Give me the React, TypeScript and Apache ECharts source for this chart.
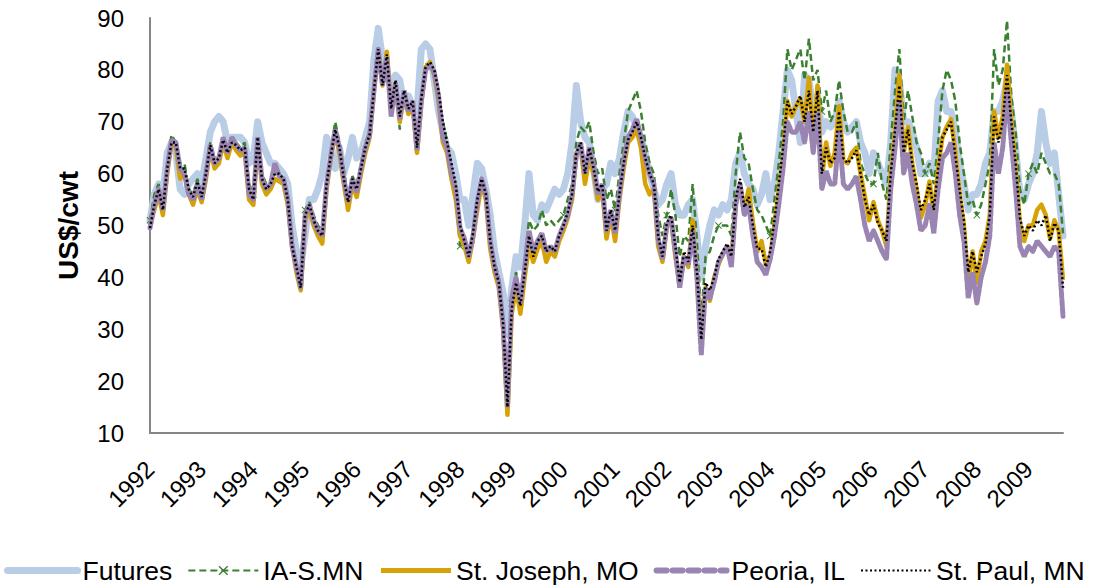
import React, { useEffect, useRef } from "react";
import * as echarts from "echarts";

const YEARS = [1992, 1993, 1994, 1995, 1996, 1997, 1998, 1999, 2000, 2001, 2002, 2003, 2004, 2005, 2006, 2007, 2008, 2009];
const MONTHS = ["01", "02", "03", "04", "05", "06", "07", "08", "09", "10", "11", "12"];

const SERIES_NAMES = ["Futures", "IA-S.MN", "St. Joseph, MO", "Peoria, IL", "St. Paul, MN"];

// Monthly readings, Jan 1992 .. Sep 2009 (US$/cwt)
const FUTURES = [
  51, 56, 58, 56, 64, 66, 64, 57, 56, 58, 59, 60,
  58, 63, 68, 70, 71, 70, 66, 67, 67, 67, 66, 62,
  63, 70, 66, 64, 62, 62, 61, 60, 58, 50, 45, 42,
  48, 55, 55, 57, 60, 67, 64, 61, 65, 60, 63, 67,
  63, 64, 67, 70, 82, 88, 82, 80, 76, 79, 78, 73,
  75, 73, 72, 84, 85, 84, 78, 72, 68, 65, 64, 60,
  55, 55, 50, 56, 62, 61, 57, 52, 45, 41, 37, 29,
  38, 44, 42, 50, 60, 52, 51, 54, 53, 55, 57, 56,
  57, 60, 66, 77, 70, 67, 66, 61, 55, 57, 58, 62,
  60, 63, 68, 72, 71, 69, 67, 64, 60, 57, 54, 55,
  58, 60, 54, 52, 52, 54, 55, 48, 40, 46, 50, 53,
  52, 54, 53, 55, 62, 64, 60, 58, 57, 54, 56, 60,
  55, 58, 64, 72, 80, 78, 72, 66, 79, 78, 72, 75,
  68, 70, 69, 70, 74, 70, 68, 69, 70, 66, 64, 60,
  64, 62, 60, 58, 66, 80, 78, 70, 70, 68, 65, 60,
  60, 62, 60, 74, 76, 72, 72, 68, 62, 58, 53, 56,
  56, 58, 62, 64, 72, 72, 74, 78, 72, 65, 56, 55,
  58, 60, 64, 72, 66, 62, 64, 56, 48,
];

const IA_SMN = [
  51, 56, 58, 54, 62, 67.5, 66, 62, 62, 57, 56, 59,
  56, 61, 66, 63, 63, 67, 65, 67, 66, 65, 66, 58,
  56, 67, 60, 58, 58, 60, 60, 59, 56, 47, 42, 39,
  53, 54.5, 52, 50, 49, 59, 64, 70, 66, 61, 55, 59.5,
  58, 62, 66, 68, 76, 83, 77, 82, 73, 78, 68.5, 76,
  73, 74, 66, 75, 81, 81.5, 80, 76, 70, 66, 61, 55,
  46, 47, 45, 46, 55, 58, 56, 47, 43, 40, 32, 16,
  35, 41, 36, 43, 51, 49, 50, 53, 50, 51, 50, 51,
  52, 55, 58, 66, 69, 68, 70, 64, 60, 61, 55, 57,
  53, 60, 66, 72, 74, 76, 72, 66, 62, 60, 52, 48,
  52, 57, 52, 44, 48, 47, 58, 47, 32, 44, 45, 48,
  50, 50, 50, 48, 60, 68, 63, 62, 57, 53, 52, 50,
  48, 55, 62, 70, 84, 80, 82, 84, 78, 86, 78, 80,
  72, 76, 70, 72, 78, 72, 68, 68, 70, 62, 60, 58,
  58, 64, 58, 55, 66, 76, 84, 70, 76, 71, 66, 64,
  60, 62, 58, 66, 76, 80, 78, 74, 66, 60, 54, 55,
  52, 54, 58, 62, 84, 77, 80, 89.5, 75, 68, 57, 54,
  60, 62, 60, 64, 62, 60, 60, 58, 48.5,
];

const ST_JOSEPH = [
  50, 53, 56, 52, 60, 66, 65, 59, 60, 56, 54, 57,
  54.5, 59, 65, 61, 62, 66, 63, 66, 64.5, 63.5, 64.5, 55,
  54, 66, 58, 56, 57, 59, 58.5, 58, 54, 46, 41, 37.5,
  51, 53, 50, 48, 46.5, 57, 63, 68, 64, 58, 53, 58,
  55.5, 60, 64, 67, 76, 83.5, 77, 83.5, 72, 77, 70, 75,
  71.5, 73, 64, 73.5, 80.5, 81.5, 79, 74, 66, 64, 59, 55,
  48, 46, 43, 47.5, 53, 58, 55, 45.5, 41, 38, 30, 13.5,
  33, 38, 33, 40, 46, 43, 45.5, 47, 43, 45, 44, 47,
  49, 51.5, 55, 64, 65, 58, 63, 60, 55, 57, 47.5, 52,
  47, 55, 61, 66, 67, 68.5, 65, 58, 56, 57, 46, 43,
  50, 51, 44, 38.5, 44, 42, 51, 40, 28.5, 38, 35.5, 40,
  42.5, 44.5, 46, 43.5, 54, 58, 53, 57, 50.5, 45, 47, 42.5,
  44, 50, 57, 63, 74, 71, 73, 74.5, 70, 78.5, 66, 77,
  59, 66, 61.5, 64, 73, 62.5, 62, 64, 65, 60, 55.5, 51,
  54.5, 51, 49, 46, 60, 68, 79, 64, 69, 62, 57, 51.5,
  54, 58.5, 52, 61, 67, 69, 70.5, 64, 56, 50, 39, 45,
  39, 45, 47, 52, 72, 67, 71, 81, 70, 61, 50.5, 47,
  50, 50, 53, 54, 52, 47.5, 51, 49, 39.5,
];

const PEORIA = [
  49.5, 54, 57, 53, 61, 66.5, 66, 61, 60, 56, 55, 58,
  55, 60, 65.5, 62, 63, 67, 64, 67, 65.5, 64.5, 65, 56,
  55, 67, 59, 57, 58, 62, 59.5, 59, 55, 46, 42, 38,
  52, 54, 51, 49, 48, 58, 63.5, 68.5, 65, 59, 54.5, 59,
  56.5, 61, 65, 67.5, 76, 84, 77, 82.5, 71, 77.5, 70.5, 76,
  72, 74, 64.5, 74, 80, 81, 79.5, 75, 67, 65, 60, 57,
  49.5, 47.5, 44, 48, 54.5, 59, 56, 47, 42, 39, 31, 15,
  36, 40, 35, 42, 49, 45, 47, 48.5, 45, 46, 45, 48,
  50, 52, 56, 63.5, 66, 60, 65, 61.5, 56, 58, 49, 53,
  48.5, 56, 62.5, 67, 68.5, 70.5, 67, 63, 60, 58, 47.5, 43.5,
  50, 51.5, 45, 38, 44, 42.5, 49, 40, 25, 38, 36, 39,
  43, 44.5, 46, 42, 54, 58, 52, 54, 48, 43, 42, 40.5,
  43.5, 48, 54, 61, 70, 68, 68, 70, 66, 72, 64, 72,
  57, 60.5, 58, 58, 68, 58, 57, 58, 59.5, 55, 50, 47,
  49, 47, 45, 43.5, 57, 65, 74, 60, 64, 58, 54, 49,
  50, 54, 48.5, 57, 63, 64, 66, 60, 52, 47, 36, 41,
  35, 40, 43, 48, 66, 60, 65, 76, 66, 57, 46, 44,
  46, 45, 47, 46, 45, 44, 46, 45, 32.5,
];

const ST_PAUL = [
  49.5, 54, 57, 53, 61, 66, 66, 61, 61, 57, 55.5, 58.5,
  55.5, 60, 65.5, 62, 63, 66.5, 64, 66, 65.5, 64.5, 65, 57,
  55, 67, 59, 57, 58, 60, 60, 59, 55, 46, 42, 38,
  52, 54, 51, 49, 48, 58, 63.5, 68.5, 65, 59, 54.5, 59,
  57, 61, 65, 67.5, 76, 84, 77, 83, 72.5, 78, 71, 76,
  72.5, 74, 65, 74.5, 80.5, 81.5, 80, 76, 70, 66, 62, 58,
  50, 47, 44, 48.5, 55, 59, 56, 47, 42, 39, 31, 15,
  34, 39, 34.5, 41, 48, 44, 47, 48, 45, 46, 45, 48,
  50, 52.5, 56, 64, 66, 60, 65, 61, 56.5, 58, 49, 53,
  49, 56, 62, 66.5, 68, 70, 67, 63, 60, 58, 48, 44,
  50.5, 52, 46, 39, 45, 43, 50, 41, 28, 39, 37.5, 40,
  43.5, 45, 46.5, 44, 55, 59, 53.5, 55.5, 50, 45.5, 45.5, 42,
  45, 51, 58, 65, 74, 71.5, 73, 75, 70, 76, 68, 76,
  60, 65, 62, 63, 72, 63, 62, 63, 64.5, 60, 55, 52,
  54, 50.5, 49, 47, 60, 68.5, 77, 64, 68.5, 62, 58, 53,
  55, 58, 53, 61, 67, 68.5, 70, 63.5, 57, 51, 41, 45,
  41, 44, 46.5, 52, 71, 66, 70, 79, 70, 62, 51.5, 48,
  50, 49, 51, 50, 52, 47, 50.5, 49, 38,
];

const CATEGORIES = YEARS.flatMap((y) => MONTHS.map((m) => `${y}-${m}`)).slice(0, ST_PAUL.length);

const X_MARK = "path://M0,1L1,0L5,4L9,0L10,1L6,5L10,9L9,10L5,6L1,10L0,9L4,5Z";
const FONT = "Liberation Sans, Arial, sans-serif";

export default function App() {
  const ref = useRef<HTMLDivElement>(null);

  useEffect(() => {
    document.body.style.margin = "0";
    const chart = echarts.init(ref.current as HTMLDivElement, null, { renderer: "svg" });
    const axisLine = { show: true, lineStyle: { color: "#868686", width: 2 } };
    const hiddenSymbol = { opacity: 0 };
    chart.setOption({
      animation: false,
      textStyle: { fontFamily: FONT },
      grid: { left: 150, right: 39, top: 18, bottom: 155, containLabel: false },
      legend: {
        data: [
          {
            name: SERIES_NAMES[0],
            itemStyle: hiddenSymbol,
            lineStyle: { width: 7, color: "#b9cde6", cap: "round" },
          },
          { name: SERIES_NAMES[1] },
          {
            name: SERIES_NAMES[2],
            itemStyle: hiddenSymbol,
            lineStyle: { width: 5, color: "#d6a205" },
          },
          {
            name: SERIES_NAMES[3],
            itemStyle: hiddenSymbol,
            lineStyle: { type: [10, 6], width: 6, cap: "round", color: "#9a84b2" },
          },
          { name: SERIES_NAMES[4], itemStyle: hiddenSymbol },
        ],
        left: 4,
        bottom: 4,
        width: 1098,
        padding: 0,
        itemWidth: 70,
        itemHeight: 12,
        itemGap: 15,
        textStyle: { fontSize: 26.5, color: "#000", fontFamily: FONT },
      },
      xAxis: {
        type: "category",
        data: CATEGORIES,
        boundaryGap: false,
        axisLine,
        axisTick: { show: false },
        splitLine: { show: false },
        axisLabel: {
          interval: (i: number) => i % 12 === 0,
          formatter: (v: string) => v.slice(0, 4),
          rotate: 45,
          margin: 32,
          fontSize: 24,
          color: "#000",
          fontFamily: FONT,
        },
      },
      yAxis: {
        type: "value",
        min: 10,
        max: 90,
        interval: 10,
        axisLine,
        axisTick: { show: false },
        splitLine: { show: false },
        axisLabel: { fontSize: 24, color: "#000", margin: 26, fontFamily: FONT },
        name: "US$/cwt",
        nameLocation: "middle",
        nameGap: 68,
        nameTextStyle: { fontSize: 28, fontWeight: "bold", color: "#000", fontFamily: FONT },
      },
      series: [
        {
          name: SERIES_NAMES[0],
          type: "line",
          data: FUTURES,
          symbol: "none",
          lineStyle: { color: "#b9cde6", width: 7, cap: "round", join: "round" },
          itemStyle: { color: "#b9cde6" },
          z: 1,
        },
        {
          name: SERIES_NAMES[1],
          type: "line",
          data: IA_SMN,
          symbol: X_MARK,
          symbolSize: 7,
          showSymbol: true,
          lineStyle: { color: "#3a8030", width: 2.5, type: [7, 4] },
          itemStyle: { color: "#3a8030" },
          z: 2,
        },
        {
          name: SERIES_NAMES[2],
          type: "line",
          data: ST_JOSEPH,
          symbol: "none",
          lineStyle: { color: "#d6a205", width: 4.5, join: "round" },
          itemStyle: { color: "#d6a205" },
          z: 3,
        },
        {
          name: SERIES_NAMES[3],
          type: "line",
          data: PEORIA,
          symbol: "none",
          lineStyle: { color: "#9a84b2", width: 5, type: [6, 2], cap: "round" },
          itemStyle: { color: "#9a84b2" },
          z: 4,
        },
        {
          name: SERIES_NAMES[4],
          type: "line",
          data: ST_PAUL,
          symbol: "none",
          lineStyle: { color: "#000000", width: 2.5, type: [2, 2.5] },
          itemStyle: { color: "#000000" },
          z: 5,
        },
      ],
    });
    return () => chart.dispose();
  }, []);

  return <div ref={ref} style={{ width: 1102, height: 588 }} />;
}
